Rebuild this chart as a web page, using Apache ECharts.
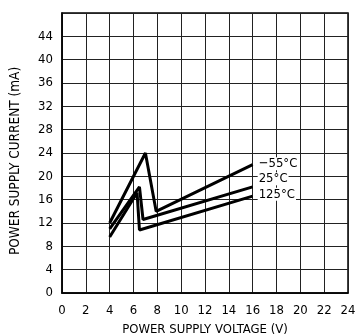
<!DOCTYPE html>
<html>
<head>
<meta charset="utf-8">
<script src="https://cdn.jsdelivr.net/npm/echarts@6/dist/echarts.min.js"></script>
<style>
  html, body { margin: 0; padding: 0; background: #fff; }
  #chart { width: 361px; height: 334px; }
</style>
</head>
<body>
<div id="chart"></div>
<script>
// curve points: [voltage (V), current (mA)]
const minus55 = [[4, 12], [7, 24], [7.9, 14], [16, 22]];
const room25 = [[4, 11], [6.5, 18.2], [6.8, 12.6], [16, 18.2]];
const hot125 = [[4, 9.6], [6.3, 17.2], [6.5, 10.8], [16, 16.6]];
const seriesNames = ["\u221255\u00b0C", "25\u00b0C", "125\u00b0C"];
const xTicks = [0, 2, 4, 6, 8, 10, 12, 14, 16, 18, 20, 22, 24];
const yTicks = [0, 4, 8, 12, 16, 20, 24, 28, 32, 36, 40, 44];

const font = "'Liberation Sans Narrow', 'DejaVu Sans Condensed', sans-serif";
const chart = echarts.init(document.getElementById("chart"));

function curve(name, data, offsetY) {
  return {
    name: name,
    type: "line",
    data: data,
    symbol: "none",
    lineStyle: { color: "#000", width: 3 },
    endLabel: {
      show: true,
      formatter: name,
      color: "#000",
      fontFamily: font,
      fontSize: 13,
      distance: 5,
      offset: [0, offsetY],
      backgroundColor: "#fff",
      padding: [0, 1]
    },
    z: 5
  };
}

chart.setOption({
  animation: false,
  grid: {
    left: 62, right: 13, top: 13, bottom: 41,
    outerBoundsMode: "none",
    containLabel: false,
    show: true, borderColor: "#000", borderWidth: 1.5
  },
  xAxis: {
    type: "value",
    min: 0, max: 24, interval: 2,
    name: "POWER SUPPLY VOLTAGE (V)",
    nameLocation: "middle",
    nameGap: 30,
    nameTextStyle: { color: "#000", fontFamily: font, fontSize: 13 },
    axisLine: { lineStyle: { color: "#000", width: 1.5 } },
    axisTick: { show: false },
    axisLabel: {
      color: "#000", fontFamily: font, fontSize: 13, margin: 11,
      formatter: v => (xTicks.includes(v) ? String(v) : "")
    },
    splitLine: { show: true, lineStyle: { color: "#222", width: 1 } }
  },
  yAxis: {
    type: "value",
    min: 0, max: 48, interval: 4,
    name: "POWER SUPPLY CURRENT (mA)",
    nameLocation: "middle",
    nameGap: 40,
    nameTextStyle: { color: "#000", fontFamily: font, fontSize: 13.5, padding: [0, 0, 0, -16] },
    axisLine: { show: true, lineStyle: { color: "#000", width: 1.5 } },
    axisTick: { show: false },
    axisLabel: {
      color: "#000", fontFamily: font, fontSize: 13, margin: 9,
      formatter: v => (yTicks.includes(v) ? String(v) : "")
    },
    splitLine: { show: true, lineStyle: { color: "#222", width: 1 } }
  },
  series: [
    curve(seriesNames[0], minus55, -1),
    curve(seriesNames[1], room25, -8),
    curve(seriesNames[2], hot125, -2)
  ]
});
</script>
</body>
</html>
